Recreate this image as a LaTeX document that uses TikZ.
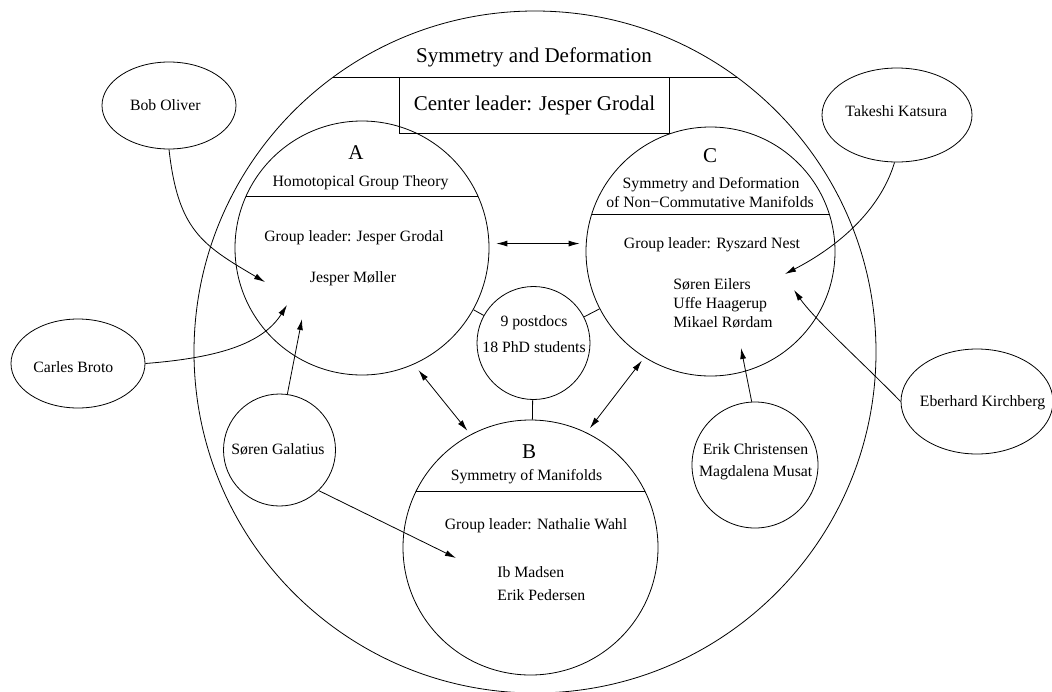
\documentclass[tikz,border=0pt]{standalone}
\usepackage{fontspec}
\setmainfont{Liberation Serif}
\usetikzlibrary{arrows.meta,shapes.geometric}
\begin{document}
\begin{tikzpicture}[x=1pt,y=-1pt,
  line width=0.8pt,
  circ/.style={circle,draw,inner sep=0pt,minimum size=#1},
  ell/.style={ellipse,draw,inner sep=0pt},
  sm/.style={font=\fontsize{15.75}{19}\selectfont, anchor=base, inner sep=0pt},
  bg/.style={font=\fontsize{21}{25}\selectfont, anchor=base, inner sep=0pt},
  arr/.style={-{Latex[length=11pt,width=6pt]}},
  dbl/.style={{Latex[length=11pt,width=6pt]}-{Latex[length=11pt,width=6pt]}}
]
\fill[white] (0,0) rectangle (1052,691);
\useasboundingbox (0,0) rectangle (1052,691);

% outer circle
\node[circ=682pt] (outer) at (535,352) {};
\draw (333.4,77) -- (736.6,77);
\node[bg] (title) at (534,62) {Symmetry and Deformation};
\node[draw, minimum width=269.7pt, minimum height=56pt, inner sep=0pt, font=\fontsize{21}{25}\selectfont] (ctr) at (534.5,105) {Center leader: Jesper Grodal};

% group A
\node[circ=254pt] (A) at (362,248) {};
\draw (246.1,196) -- (477.9,196);
\node[bg] (Alet) at (356,159.5) {A};
\node[sm] (Atitle) at (360.5,186) {Homotopical Group Theory};
\node[sm] (Alead) at (354,241.5) {Group leader: Jesper Grodal};
\node[sm] (Amem) at (353,282.5) {Jesper Møller};

% group C
\node[circ=249pt] (C) at (710.5,251.5) {};
\draw (591.8,214) -- (829.2,214);
\node[bg] (Clet) at (710,162.7) {C};
\node[sm] (Ct1) at (711,188.3) {Symmetry and Deformation};
\node[sm] (Ct2) at (710,207.3) {of Non−Commutative Manifolds};
\node[sm] (Clead) at (712,248.3) {Group leader: Ryszard Nest};
\node[sm, anchor=base west] (Cm1) at (673,289) {Søren Eilers};
\node[sm, anchor=base west] (Cm2) at (673,308.3) {Uffe Haagerup};
\node[sm, anchor=base west] (Cm3) at (673,327.3) {Mikael Rørdam};

% group B
\node[circ=255pt] (B) at (530.5,547.5) {};
\draw (416.2,491) -- (644.8,491);
\node[bg] (Blet) at (529,458) {B};
\node[sm] (Bt) at (526.5,480) {Symmetry of Manifolds};
\node[sm] (Blead) at (536,529.5) {Group leader: Nathalie Wahl};
\node[sm, anchor=base west] (Bm1) at (497,577) {Ib Madsen};
\node[sm, anchor=base west] (Bm2) at (497,600) {Erik Pedersen};

% postdocs
\node[circ=113pt] (P) at (533.5,343) {};
\node[sm] (P1) at (534,326.7) {9 postdocs};
\node[sm] (P2) at (534,352.7) {18 PhD students};

% Galatius
\node[circ=112pt] (G) at (279.5,450) {};
\node[sm] (Gt) at (278,454) {Søren Galatius};

% Erik / Magdalena
\node[circ=126pt] (E) at (755,465) {};
\node[sm] (E1) at (755.5,454) {Erik Christensen};
\node[sm] (E2) at (755.7,476.7) {Magdalena Musat};

% outside collaborators
\node[ell, minimum width=134pt, minimum height=87pt] (bob) at (169,105.5) {};
\node[sm] (bobt) at (165.3,110) {Bob Oliver};
\node[ell, minimum width=134pt, minimum height=89pt] (carles) at (78,363.5) {};
\node[sm] (carlest) at (73.3,372.3) {Carles Broto};
\node[ell, minimum width=150pt, minimum height=94pt] (tak) at (897,115) {};
\node[sm] (takt) at (896.3,116.7) {Takeshi Katsura};
\node[ell, minimum width=152pt, minimum height=105pt] (eb) at (977,401.5) {};
\node[sm] (ebt) at (982.5,406) {Eberhard Kirchberg};

% connectors
\draw (A) -- (P);
\draw (C) -- (P);
\draw (P) -- (B);
\draw[dbl, shorten <=7pt, shorten >=6pt] (A.2) -- (A.2 -| C.west);
\draw[dbl, shorten <=7.5pt, shorten >=5pt] (A.-66.5) -- (B.118.6);
\draw[dbl, shorten <=4pt, shorten >=5.5pt] (C.238.3) -- (B.64.9);

\coordinate (tBob) at (265,282);
\coordinate (tCarles) at (287,305);
\coordinate (tGA) at (302,319);
\coordinate (tGB) at (456,558);
\coordinate (tE) at (741,348);
\coordinate (tTak) at (785,274);
\coordinate (tEb) at (794,290);

\draw[arr] (bob.south) .. controls (178,230) and (202,245) .. (tBob);
\draw[arr] (carles.east) .. controls (215,358) and (262,345) .. (tCarles);
\draw[arr] (G.82.4) -- (tGA);
\draw[arr] (G.-46.8) -- (tGB);
\draw[arr] (E.93.7) -- (tE);
\draw[arr] (tak.-93) .. controls (882,205) and (845,243) .. (tTak);
\draw[arr] (eb.west) .. controls (860,360) and (815,320) .. (tEb);
\end{tikzpicture}
\end{document}
